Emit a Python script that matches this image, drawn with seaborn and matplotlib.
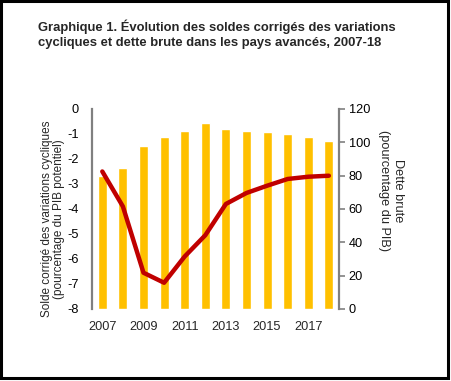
import numpy as np
import pandas as pd
import matplotlib.pyplot as plt
import seaborn as sns
from matplotlib.patches import Rectangle

years = ["2007", "2008", "2009", "2010", "2011", "2012",
         "2013", "2014", "2015", "2016", "2017", "2018"]
# dette brute (% du PIB), axe de droite
dette = [79.8, 84.6, 97.8, 103.2, 106.8, 111.6, 108.0, 106.8, 106.2, 105.0, 103.2, 100.8]
# solde corrigé des variations cycliques (% du PIB potentiel), axe de gauche
solde = [-2.5, -3.9, -6.55, -6.95, -5.9, -5.05, -3.8, -3.36, -3.07, -2.8, -2.71, -2.67]
year_labels = ["2007", "", "2009", "", "2011", "", "2013", "", "2015", "", "2017", ""]
solde_ticks = [-8, -7, -6, -5, -4, -3, -2, -1, 0]
dette_ticks = [0, 20, 40, 60, 80, 100, 120]

df = pd.DataFrame({"annee": years, "dette": dette, "solde": solde})
df["pos"] = np.arange(len(df))

sns.set_style("white")
plt.rcParams["font.family"] = ["Liberation Sans", "DejaVu Sans"]

fig = plt.figure(figsize=(4.51, 3.81), dpi=100)
ax = fig.add_axes([0.204, 0.189, 0.548, 0.525])

sns.barplot(data=df, x="annee", y="dette", color="#FFC000", width=0.44,
            saturation=1, ax=ax)
ax.set_ylim(0, 120)
ax.set_yticks(dette_ticks)
ax.set_xlim(-0.5, 11.5)
ax.set_xticks(range(len(years)))
ax.set_xticklabels(year_labels)
ax.set_xlabel("")
ax.set_ylabel("")

ax2 = ax.twinx()
sns.lineplot(data=df, x="pos", y="solde", color="#C00000", linewidth=3.2, ax=ax2)
ax2.set_ylim(-8, 0)
ax2.set_yticks(solde_ticks)
ax2.set_yticklabels([str(v) for v in solde_ticks])
ax2.set_xlabel("")
ax2.set_ylabel("")
ax2.set_xlim(-0.5, 11.5)

# twinx moves ticks, so set sides afterwards
ax.yaxis.tick_right()
ax2.yaxis.tick_left()

for a in (ax, ax2):
    for s in a.spines.values():
        s.set_visible(False)

ax.spines["right"].set_visible(True)
ax.spines["right"].set_color("#808080")
ax.spines["right"].set_linewidth(1.6)
ax2.spines["left"].set_visible(True)
ax2.spines["left"].set_color("#808080")
ax2.spines["left"].set_linewidth(1.6)

ax.tick_params(axis="y", left=False, right=True, labelleft=False, labelright=True,
               length=4, width=1.2, color="#808080", labelsize=9.2, pad=3,
               labelcolor="black")
ax.tick_params(axis="x", bottom=False, labelsize=9.2, pad=5)
ax2.tick_params(axis="y", left=False, right=False, labelleft=True, labelright=False,
                labelsize=9.2, pad=6, labelcolor="black")

fig.text(0.118, 0.425, "Solde corrigé des variations cycliques\n(pourcentage du PIB potentiel)",
         rotation=90, ha="center", va="center", fontsize=8.5, multialignment="center",
         linespacing=1.05)
fig.text(0.867, 0.499, "Dette brute\n(pourcentage du PIB)",
         rotation=-90, ha="center", va="center", fontsize=9.2, multialignment="center")

fig.text(0.084, 0.948, "Graphique 1. Évolution des soldes corrigés des variations\n"
         "cycliques et dette brute dans les pays avancés, 2007-18",
         ha="left", va="top", fontsize=9.4, fontweight="bold", linespacing=1.35)

fig.patches.append(Rectangle((0.003, 0.007), 0.99, 0.99, transform=fig.transFigure,
                             fill=False, edgecolor="black", linewidth=2.2))

fig.savefig("out.png", dpi=100)
